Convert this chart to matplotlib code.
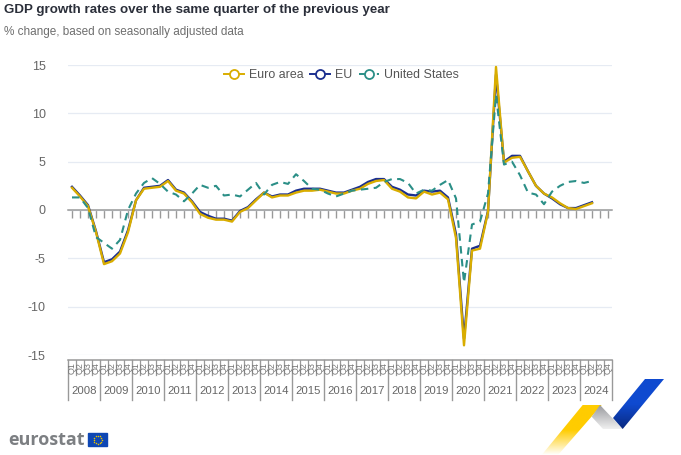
import numpy as np
import matplotlib
matplotlib.use('Agg')
import matplotlib.pyplot as plt
from matplotlib.lines import Line2D
from matplotlib.patches import Polygon, Rectangle
from matplotlib.colors import LinearSegmentedColormap

plt.rcParams['font.family'] = ['Liberation Sans', 'DejaVu Sans']

years = list(range(2008, 2025))
quarters = ['Q1', 'Q2', 'Q3', 'Q4']

euro_area = [2.3, 1.4, 0.4, -2.3, -5.6, -5.3, -4.5, -2.3, 1.0, 2.2, 2.3, 2.4,
             3.0, 2.0, 1.7, 0.8, -0.4, -0.8, -1.0, -1.0, -1.2, -0.2, 0.2, 1.0,
             1.8, 1.3, 1.5, 1.5, 1.8, 2.0, 2.0, 2.1, 1.9, 1.7, 1.7, 2.0,
             2.2, 2.7, 3.0, 3.1, 2.2, 1.9, 1.3, 1.2, 1.9, 1.6, 1.8, 1.1,
             -2.9, -14.0, -4.2, -4.0, -0.2, 14.8, 4.9, 5.4, 5.5, 4.0,
             2.5, 1.7, 1.3, 0.7, 0.2, 0.1, 0.4, 0.7]
eu = [2.4, 1.5, 0.5, -2.2, -5.4, -5.1, -4.3, -2.1, 1.0, 2.3, 2.4, 2.5,
      3.1, 2.1, 1.8, 0.9, -0.2, -0.6, -0.9, -0.9, -1.1, -0.1, 0.3, 1.1,
      1.8, 1.4, 1.6, 1.6, 2.0, 2.2, 2.2, 2.2, 2.0, 1.8, 1.8, 2.1,
      2.4, 2.9, 3.2, 3.2, 2.4, 2.1, 1.6, 1.5, 2.0, 1.9, 2.0, 1.3,
      -2.5, -13.3, -4.0, -3.7, -0.1, 14.0, 5.0, 5.6, 5.6, 4.0,
      2.5, 1.7, 1.2, 0.6, 0.2, 0.2, 0.5, 0.8]
united_states = [1.3, 1.3, 0.2, -2.8, -3.4, -4.0, -3.1, 0.0, 1.7, 2.8, 3.3, 2.7,
                 1.9, 1.6, 0.9, 1.7, 2.6, 2.3, 2.5, 1.5, 1.6, 1.4, 2.1, 2.8,
                 1.6, 2.6, 2.9, 2.7, 3.7, 3.0, 2.2, 2.1, 1.7, 1.4, 1.7, 2.0,
                 2.1, 2.2, 2.3, 2.9, 3.2, 3.2, 2.8, 1.7, 2.1, 2.0, 2.6, 3.1,
                 1.2, -7.5, -1.5, -1.2, 1.7, 11.9, 4.7, 5.0, 3.6, 1.8,
                 1.6, 0.6, 1.9, 2.5, 2.9, 3.0, 2.8, 3.0]

W, H = 681, 455
fig = plt.figure(figsize=(W / 100, H / 100), dpi=100)

def box(left, top, right, bottom):
    return [left / W, 1 - bottom / H, (right - left) / W, (bottom - top) / H]

ax = fig.add_axes(box(68, 65, 612, 355))
ax.set_xlim(-0.5, 67.5)
ax.set_ylim(-15, 15)
ax.patch.set_alpha(0)

x = np.arange(len(euro_area))
ax.plot(x, eu, color='#1b2f8f', lw=1.7, zorder=3)
ax.plot(x, euro_area, color='#d9ad00', lw=1.7, zorder=4)
ax.plot(x, united_states, color='#2b8f87', lw=1.5, ls=(0, (3.6, 2.6)), zorder=5)

ax.set_yticks([-15, -10, -5, 0, 5, 10, 15])
ax.set_yticklabels(['-15', '-10', '-5', '0', '5', '10', '15'])
ax.tick_params(axis='y', length=0, pad=16, labelsize=9, labelcolor='#666666')
ax.grid(axis='y', color='#e6ebf3', lw=0.9)
ax.set_axisbelow(True)
for side in ['top', 'right', 'left']:
    ax.spines[side].set_visible(False)
ax.spines['bottom'].set_position(('data', 0))
ax.spines['bottom'].set_color('#999999')
ax.spines['bottom'].set_linewidth(1.1)
ax.set_xticks(np.arange(len(years) * 4))
ax.set_xticklabels([])
ax.tick_params(axis='x', length=6, width=1.0, color='#999999')

handles = [
    Line2D([], [], color='#d9ad00', lw=1.4, marker='o', ms=6.5, mfc='white', mew=1.3),
    Line2D([], [], color='#1b2f8f', lw=1.4, marker='o', ms=6.5, mfc='white', mew=1.3),
    Line2D([], [], color='#2b8f87', lw=1.4, ls=(0, (3, 1.6)), marker='o', ms=6.5, mfc='white', mew=1.3),
]
ax.legend(handles, ['Euro area', 'EU', 'United States'], ncol=3, frameon=False,
          loc='center', bbox_to_anchor=((341.5 - 68) / 544, 1 - 10 / 290),
          fontsize=8.9, labelcolor='#555555', handlelength=1.6, handletextpad=0.4,
          columnspacing=0.55, borderpad=0, borderaxespad=0)

# two level category axis under the plot
ax2 = fig.add_axes(box(68, 360, 612, 400))
ax2.set_xlim(-0.5, 67.5)
ax2.set_ylim(40, 0)
ax2.axis('off')
ax2.plot([-0.5, 67.5], [0, 0], color='#999999', lw=1.1, clip_on=False)
for i, year in enumerate(years):
    ax2.plot([4 * i - 0.5] * 2, [0, 40], color='#999999', lw=1.0, clip_on=False)
    for j, q in enumerate(quarters):
        pos = 4 * i + j
        if j > 0:
            ax2.plot([pos - 0.5] * 2, [0, 15], color='#999999', lw=0.9)
        ax2.text(pos, 8, q, rotation=90, ha='center', va='center', fontsize=6.4, color='#777777')
    ax2.text(4 * i + 1.5, 31, str(year), ha='center', va='center', fontsize=8.2, color='#666666')
ax2.plot([67.5] * 2, [0, 40], color='#999999', lw=1.0, clip_on=False)

# title, subtitle and logo in pixel coordinates
over = fig.add_axes([0, 0, 1, 1], zorder=-1)
over.set_xlim(0, W)
over.set_ylim(H, 0)
over.axis('off')
over.text(4, 10.5, 'GDP growth rates over the same quarter of the previous year',
          fontsize=9.65, fontweight='bold', color='#2b2f3a', va='center')
over.text(4, 31.5, '% change, based on seasonally adjusted data',
          fontsize=8.45, color='#6e6e6e', va='center')
over.text(8, 440, 'eurostat', fontsize=13, fontweight='bold', color='#7c7f82', va='center',
          family=['Open Sans', 'DejaVu Sans'])
over.add_patch(Rectangle((88, 433), 19, 13, color='#0e47b4'))
star_angle = np.linspace(0, 2 * np.pi, 12, endpoint=False)
over.scatter(97.5 + 4 * np.cos(star_angle), 439.5 + 4 * np.sin(star_angle), s=1.2, color='#e8c400', lw=0)

def ribbon(points, colors, extent, vertical=True):
    cmap = LinearSegmentedColormap.from_list('r', colors)
    grad = np.linspace(0, 1, 128).reshape(-1, 1) if vertical else np.linspace(0, 1, 128).reshape(1, -1)
    im = over.imshow(grad, extent=extent, cmap=cmap, aspect='auto', interpolation='bilinear')
    patch = Polygon(points, transform=over.transData, fc='none', ec='none')
    over.add_patch(patch)
    im.set_clip_path(patch)

ribbon([(582.7, 405), (601.7, 405), (558, 455), (541.7, 455)],
       ['#ffcc00', '#ffcc00', '#ffffff'], (540, 603, 455, 405))
ribbon([(600, 405), (591.7, 416.7), (603, 429), (622.7, 429)],
       ['#999a9e', '#f0f0f0'], (590, 623, 429, 405))
ribbon([(645, 379), (664, 379), (622.7, 429), (613, 418)],
       ['#0f4ad0', '#0f4ad0', '#0a2a80'], (612, 665, 429, 379))
over.set_xlim(0, W)
over.set_ylim(H, 0)

fig.savefig('out.png', dpi=100)
